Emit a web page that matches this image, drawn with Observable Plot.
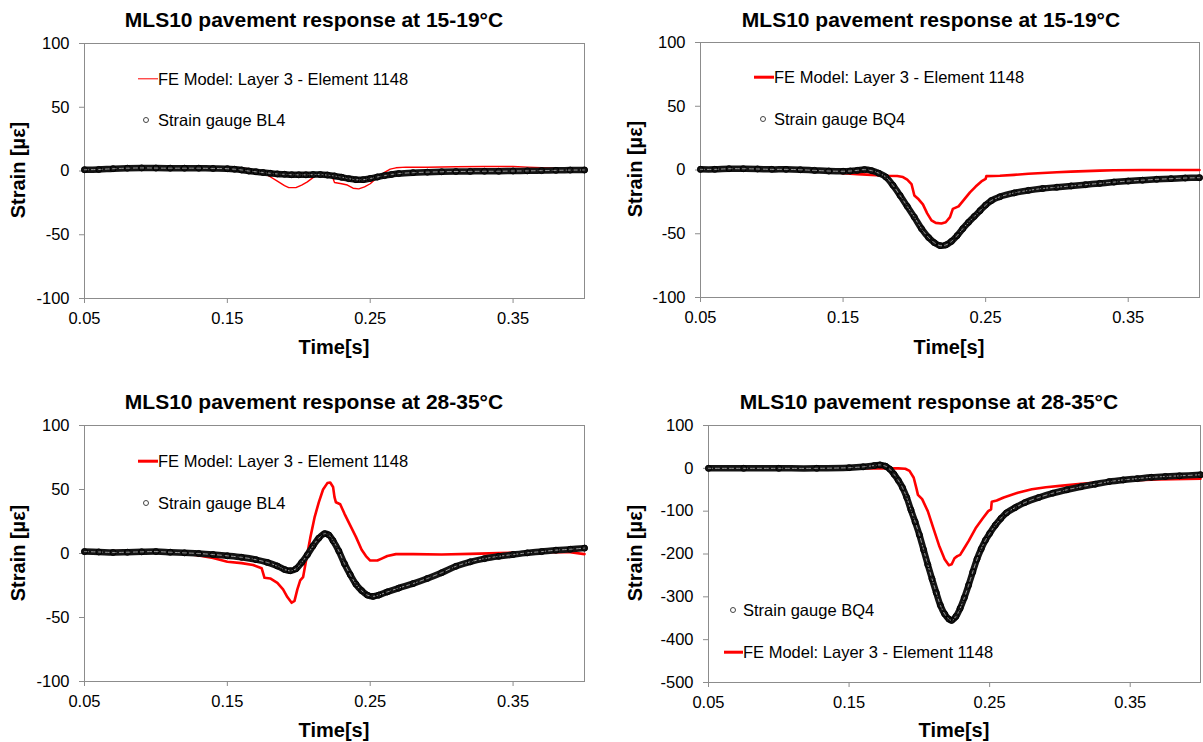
<!DOCTYPE html>
<html>
<head>
<meta charset="utf-8">
<script src="https://cdn.jsdelivr.net/npm/d3@7"></script>
<script src="https://cdn.jsdelivr.net/npm/@observablehq/plot@0.6"></script>
<style>
  html, body { margin: 0; padding: 0; background: #fff; }
  #root { position: relative; width: 1203px; height: 742px; overflow: hidden; font-family: "Liberation Sans", Arial, sans-serif; color: #000; }
  .panel { position: absolute; }
  .t { position: absolute; white-space: nowrap; transform: translate(-50%, -50%); font-weight: bold; }
  .title { font-size: 21px; }
  .axt { font-size: 20px; }
  .ylab { font-size: 20px; font-weight: bold; position: absolute; white-space: nowrap; transform: translate(-50%, -50%) rotate(-90deg); }
  .leg { position: absolute; white-space: nowrap; font-size: 16.5px; transform: translateY(-50%); line-height: 1; }
  .sw { position: absolute; background: #ff0000; transform: translateY(-50%); }
  .circ { position: absolute; width: 4px; height: 4px; border: 1.2px solid #444; border-radius: 50%; transform: translate(-50%, -50%); }
</style>
</head>
<body>
<div id="root"></div>
<script>
// ---------------- data ----------------
const xTicks = [0.05, 0.15, 0.25, 0.35];
const xTickLabels = ["0.05", "0.15", "0.25", "0.35"];
const yTicksSmall = [-100, -50, 0, 50, 100];
const yTicksLarge = [-500, -400, -300, -200, -100, 0, 100];

const titles = [
  "MLS10 pavement response at 15-19°C",
  "MLS10 pavement response at 15-19°C",
  "MLS10 pavement response at 28-35°C",
  "MLS10 pavement response at 28-35°C"
];
const xLabel = "Time[s]";
const yLabel = "Strain [µε]";
const modelName = "FE Model: Layer 3 - Element 1148";
const gaugeNames = ["Strain gauge BL4", "Strain gauge BQ4", "Strain gauge BL4", "Strain gauge BQ4"];

// Panel 1: 15-19°C, BL4  [time s, strain µε]
const p1Gauge = [[0.050,1.0],[0.060,1.2],[0.070,1.8],[0.080,2.2],[0.090,2.4],[0.100,2.3],[0.110,2.2],[0.120,2.2],[0.130,2.2],[0.140,2.0],[0.150,1.8],[0.155,1.4],[0.160,0.8],[0.165,0.0],[0.170,-0.6],[0.175,-1.2],[0.180,-1.8],[0.185,-2.3],[0.190,-2.6],[0.195,-2.9],[0.200,-3.0],[0.205,-3.0],[0.210,-2.8],[0.215,-2.8],[0.220,-3.2],[0.225,-3.9],[0.230,-4.9],[0.235,-6.0],[0.240,-6.8],[0.245,-6.8],[0.250,-5.9],[0.255,-4.7],[0.260,-3.6],[0.265,-2.7],[0.270,-2.0],[0.280,-1.3],[0.290,-0.9],[0.300,-0.6],[0.310,-0.4],[0.320,-0.3],[0.330,-0.2],[0.340,-0.2],[0.350,0.0],[0.360,0.1],[0.370,0.3],[0.380,0.5],[0.390,0.7],[0.400,0.8]];
const p1Model = [[0.050,1.0],[0.080,2.2],[0.120,2.2],[0.150,2.0],[0.160,2.2],[0.165,1.8],[0.170,0.5],[0.175,-1.5],[0.180,-4.5],[0.185,-8.0],[0.190,-11.5],[0.193,-13.0],[0.198,-13.0],[0.202,-11.0],[0.206,-8.5],[0.209,-6.0],[0.212,-3.5],[0.215,-2.5],[0.220,-2.5],[0.223,-3.0],[0.225,-9.0],[0.230,-10.0],[0.234,-11.0],[0.238,-13.5],[0.242,-14.0],[0.246,-12.5],[0.250,-10.0],[0.253,-7.0],[0.257,-3.5],[0.260,-1.0],[0.264,1.5],[0.268,2.5],[0.275,3.0],[0.290,3.0],[0.310,3.3],[0.330,3.5],[0.350,3.5],[0.360,3.0],[0.370,2.6],[0.380,2.3],[0.390,1.5],[0.400,1.0]];

// Panel 2: 15-19°C, BQ4
const p2Gauge = [[0.050,0.5],[0.060,0.5],[0.070,1.0],[0.080,1.0],[0.090,0.8],[0.100,0.5],[0.110,0.5],[0.120,0.2],[0.130,-0.3],[0.140,-0.8],[0.150,-1.0],[0.155,-0.8],[0.160,-0.3],[0.165,0.3],[0.170,-0.5],[0.175,-2.5],[0.180,-5.5],[0.185,-12],[0.190,-20],[0.195,-28.5],[0.200,-37],[0.205,-46],[0.210,-53],[0.214,-57],[0.218,-59.3],[0.222,-58.8],[0.226,-56],[0.230,-51.5],[0.234,-46],[0.238,-41],[0.242,-36.5],[0.246,-32],[0.250,-27.5],[0.254,-24],[0.260,-21],[0.270,-18],[0.280,-16],[0.290,-14.5],[0.300,-13.5],[0.310,-12.5],[0.320,-11.5],[0.330,-10.5],[0.340,-9.5],[0.350,-8.7],[0.360,-8.0],[0.370,-7.3],[0.380,-6.8],[0.390,-6.3],[0.400,-6.0]];
const p2Model = [[0.050,0.5],[0.100,0.3],[0.140,-0.5],[0.150,-2.5],[0.160,-3.2],[0.170,-3.8],[0.180,-4.5],[0.188,-4.7],[0.192,-5.5],[0.195,-7.5],[0.198,-11],[0.200,-20],[0.203,-23],[0.206,-27],[0.209,-34],[0.212,-39.5],[0.215,-41.5],[0.219,-42],[0.222,-41],[0.225,-37],[0.227,-30.5],[0.231,-28.5],[0.235,-23],[0.239,-17.5],[0.243,-13],[0.247,-9],[0.250,-7],[0.2505,-4.8],[0.260,-4.5],[0.270,-3.8],[0.280,-3.0],[0.290,-2.4],[0.300,-1.8],[0.310,-1.3],[0.320,-0.9],[0.330,-0.5],[0.340,-0.2],[0.360,0.0],[0.400,0.0]];

// Panel 3: 28-35°C, BL4
const p3Gauge = [[0.050,1.5],[0.060,1.2],[0.070,0.8],[0.080,1.0],[0.090,1.3],[0.100,1.5],[0.110,1.0],[0.120,0.5],[0.130,0.0],[0.140,-0.8],[0.150,-1.8],[0.160,-3.0],[0.170,-4.8],[0.178,-7.0],[0.185,-9.8],[0.190,-12.5],[0.194,-13.5],[0.198,-12.0],[0.202,-7.0],[0.206,-1.0],[0.210,6.0],[0.214,12.0],[0.218,15.5],[0.221,14.5],[0.224,10.0],[0.228,2.0],[0.232,-8.0],[0.236,-16.5],[0.240,-24.0],[0.244,-29.0],[0.248,-32.5],[0.252,-33.5],[0.256,-32.5],[0.262,-30.0],[0.270,-27.0],[0.280,-23.5],[0.290,-19.5],[0.300,-15.0],[0.310,-10.0],[0.320,-6.5],[0.330,-4.0],[0.340,-2.2],[0.350,-0.8],[0.360,0.5],[0.370,1.5],[0.380,2.6],[0.390,3.3],[0.400,4.2]];
const p3Model = [[0.050,1.5],[0.080,2.0],[0.100,1.5],[0.120,0.0],[0.130,-1.5],[0.140,-3.5],[0.150,-6.5],[0.160,-7.5],[0.168,-9.0],[0.174,-11.5],[0.176,-19.0],[0.180,-19.5],[0.185,-23.0],[0.189,-28.0],[0.192,-34.0],[0.195,-38.5],[0.197,-37.0],[0.199,-28.0],[0.201,-21.0],[0.203,-18.5],[0.205,-6.0],[0.208,12.0],[0.211,28.0],[0.214,40.0],[0.217,50.0],[0.220,55.0],[0.222,55.5],[0.224,52.0],[0.225,44.0],[0.226,40.0],[0.229,38.5],[0.232,31.0],[0.236,22.0],[0.240,13.0],[0.244,3.0],[0.247,-2.0],[0.250,-5.5],[0.255,-5.5],[0.258,-4.0],[0.262,-2.0],[0.268,-0.5],[0.280,-0.5],[0.300,-0.8],[0.320,-0.3],[0.340,0.3],[0.360,0.8],[0.380,1.3],[0.390,1.0],[0.400,-0.5]];

// Panel 4: 28-35°C, BQ4
const p4Gauge = [[0.050,0],[0.075,0],[0.100,0],[0.127,0],[0.150,1.5],[0.160,3.5],[0.168,6.5],[0.172,8],[0.176,5],[0.179,-2],[0.182,-14],[0.185,-28],[0.188,-45],[0.191,-68],[0.194,-97],[0.197,-125],[0.200,-155],[0.203,-190],[0.206,-225],[0.209,-258],[0.212,-290],[0.215,-320],[0.218,-340],[0.221,-352],[0.223,-355],[0.226,-346],[0.229,-327],[0.232,-302],[0.235,-273],[0.238,-242],[0.241,-212],[0.244,-188],[0.247,-168],[0.250,-152],[0.254,-133],[0.258,-117],[0.262,-104],[0.268,-92],[0.275,-80],[0.285,-68],[0.295,-58],[0.305,-50],[0.315,-43],[0.325,-37],[0.335,-31],[0.345,-27],[0.355,-24],[0.365,-21],[0.375,-19],[0.385,-17.5],[0.400,-15]];
const p4Model = [[0.050,0],[0.150,0],[0.185,0],[0.190,-1],[0.193,-6],[0.196,-22],[0.198,-48],[0.199,-62],[0.202,-72],[0.206,-100],[0.210,-140],[0.214,-180],[0.218,-212],[0.221,-226],[0.223,-224],[0.225,-210],[0.227,-205],[0.229,-202],[0.232,-186],[0.235,-170],[0.240,-140],[0.245,-117],[0.249,-100],[0.251,-96],[0.2515,-78],[0.255,-75],[0.260,-68],[0.270,-57],[0.280,-49],[0.290,-44],[0.300,-41],[0.315,-36],[0.330,-32],[0.350,-28],[0.370,-26],[0.400,-24]];

// ---------------- layout ----------------
const root = document.getElementById("root");
const FONT = "'Liberation Sans', Arial, sans-serif";

const panels = [
  {left: 0, top: 0, width: 600, height: 370, mL: 84, mR: 16, mT: 43, mB: 72, yDomain: [-100, 100], yTicks: yTicksSmall, gauge: p1Gauge, model: p1Model, redW: 1.4,
   title: [314, 20], xlab: [334, 347], ylab: [18, 170],
   legend: {model: [138, 79], gauge: [146, 120], textX: 158}},
  {left: 600, top: 0, width: 603, height: 370, mL: 100, mR: 4, mT: 42, mB: 73, yDomain: [-100, 100], yTicks: yTicksSmall, gauge: p2Gauge, model: p2Model, redW: 2.6,
   title: [931, 20], xlab: [949, 347], ylab: [635, 169],
   legend: {model: [754, 77], gauge: [763, 119], textX: 774}},
  {left: 0, top: 380, width: 600, height: 362, mL: 84, mR: 16, mT: 45, mB: 61, yDomain: [-100, 100], yTicks: yTicksSmall, gauge: p3Gauge, model: p3Model, redW: 2.6,
   title: [314, 402], xlab: [334, 730], ylab: [18, 553],
   legend: {model: [138, 461], gauge: [146, 503], textX: 158}},
  {left: 600, top: 380, width: 603, height: 362, mL: 108, mR: 3, mT: 45, mB: 60, yDomain: [-500, 100], yTicks: yTicksLarge, gauge: p4Gauge, model: p4Model, redW: 2.6,
   title: [929, 402], xlab: [954, 730], ylab: [635, 553],
   legend: {model: [724, 652], gauge: [733, 610], textX: 743}}
];

panels.forEach((p, i) => {
  const gx = d => d[0], gy = d => d[1];
  const chart = Plot.plot({
    width: p.width, height: p.height,
    marginLeft: p.mL, marginRight: p.mR, marginTop: p.mT, marginBottom: p.mB,
    style: {fontFamily: FONT, fontSize: "16.5px", color: "#000", background: "transparent", overflow: "visible"},
    x: {domain: [0.05, 0.40]},
    y: {domain: p.yDomain},
    marks: [
      Plot.frame({stroke: "#8c8c8c", strokeWidth: 1}),
      Plot.axisX({ticks: xTicks, tickFormat: d => xTickLabels[xTicks.indexOf(d)], tickSize: 5, tickPadding: 9, label: null, stroke: "#8c8c8c", fill: "#000"}),
      Plot.axisY({ticks: p.yTicks, tickFormat: d => `${d}`, tickSize: 5, tickPadding: 10, label: null, stroke: "#8c8c8c", fill: "#000"}),
      Plot.line(p.model, {x: gx, y: gy, stroke: "#ff0000", strokeWidth: p.redW}),
      // strain gauge: dense open-circle markers rendered as a thick dark band
      Plot.line(p.gauge, {x: gx, y: gy, stroke: "#141414", strokeWidth: 6.5, curve: "catmull-rom"}),
      Plot.line(p.gauge, {x: gx, y: gy, stroke: "#9a9a9a", strokeWidth: 1, strokeDasharray: "4 3", curve: "catmull-rom"}),
      Plot.dot(p.gauge, {x: gx, y: gy, r: 3, stroke: "#000", strokeWidth: 1, fill: "none"})
    ]
  });
  chart.classList.add("panel");
  chart.style.left = p.left + "px";
  chart.style.top = p.top + "px";
  root.appendChild(chart);

  const mk = (cls, txt, x, y) => {
    const d = document.createElement("div");
    d.className = cls; d.textContent = txt;
    d.style.left = x + "px"; d.style.top = y + "px";
    root.appendChild(d);
    return d;
  };
  mk("t title", titles[i], p.title[0], p.title[1]);
  mk("t axt", xLabel, p.xlab[0], p.xlab[1]);
  mk("ylab", yLabel, p.ylab[0], p.ylab[1]);

  // legend
  const L = p.legend;
  const sw = document.createElement("div");
  sw.className = "sw";
  sw.style.left = L.model[0] + "px"; sw.style.top = L.model[1] + "px";
  sw.style.width = (L.textX - L.model[0]) + "px"; sw.style.height = p.redW + "px";
  root.appendChild(sw);
  mk("leg", modelName, L.textX, L.model[1]);
  const c = document.createElement("div");
  c.className = "circ";
  c.style.left = L.gauge[0] + "px"; c.style.top = L.gauge[1] + "px";
  root.appendChild(c);
  mk("leg", gaugeNames[i], L.textX, L.gauge[1]);
});
</script>
</body>
</html>
